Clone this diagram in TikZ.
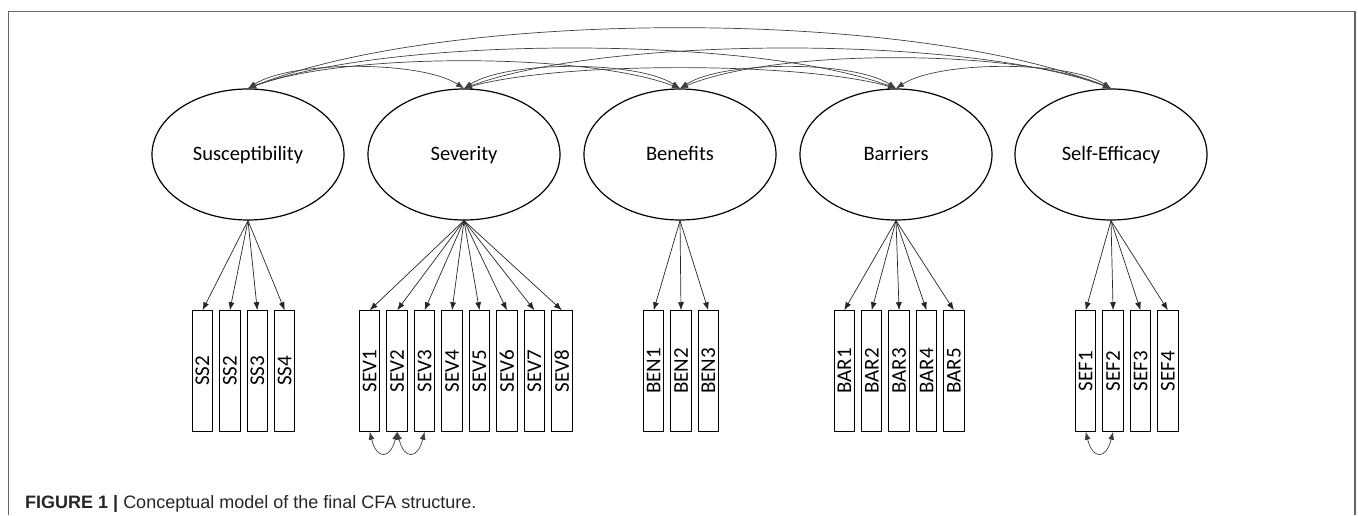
\documentclass[tikz,border=0pt]{standalone}
\usepackage{fontspec}
\setmainfont{Carlito}
\newfontfamily\capfont{Liberation Sans}
\usetikzlibrary{shapes.geometric,arrows.meta}

\begin{document}
\begin{tikzpicture}[x=1pt,y=1pt,
  latent/.style={ellipse, draw, line width=1.2pt, minimum width=192pt,
    minimum height=131pt, inner sep=0pt, text height=18pt, text depth=5pt,
    font=\fontsize{20.5}{24}\selectfont},
  indicator/.style={draw, line width=1pt, rotate=90, minimum width=120.5pt,
    minimum height=20.5pt, inner sep=0pt, font=\fontsize{21}{24}\selectfont},
  tip/.tip={Latex[length=8pt,width=6pt]},
  loading/.style={-tip, line width=0.7pt, draw=black!85},
  covar/.style={tip-tip, line width=0.7pt, draw=black!75},
  frameline/.style={draw=black!60, line width=1.6pt}]

\useasboundingbox (0,0) rectangle (1358,515);

% open frame around the figure
\draw[frameline] (8.3,0) -- (8.3,503.3) -- (1355,503.3) -- (1355,0);

% latent factors
\node[latent] (sus) at (248,360.5) {Susceptibility};
\node[latent] (sev) at (464,360.5) {Severity};
\node[latent] (ben) at (680,360.5) {Benefits};
\node[latent] (bar) at (896,360.5) {Barriers};
\node[latent] (sef) at (1111,360.5) {Self-Efficacy};

% observed indicators
\foreach \lab [count=\i from 0] in {SS2,SS2,SS3,SS4}
  \node[indicator] (ss\i) at ({202.5+27.4*\i},144) {\lab};
\foreach \lab [count=\i from 0] in {SEV1,SEV2,SEV3,SEV4,SEV5,SEV6,SEV7,SEV8}
  \node[indicator] (sv\i) at ({369.7+27.45*\i},144) {\lab};
\foreach \lab [count=\i from 0] in {BEN1,BEN2,BEN3}
  \node[indicator] (bn\i) at ({653.7+27.3*\i},144) {\lab};
\foreach \lab [count=\i from 0] in {BAR1,BAR2,BAR3,BAR4,BAR5}
  \node[indicator] (br\i) at ({844.3+27.4*\i},144) {\lab};
\foreach \lab [count=\i from 0] in {SEF1,SEF2,SEF3,SEF4}
  \node[indicator] (sf\i) at ({1085.7+27.4*\i},144) {\lab};

% factor loadings
\foreach \i in {0,...,3} \draw[loading] (sus.south) -- (ss\i.east);
\foreach \i in {0,...,7} \draw[loading] (sev.south) -- (sv\i.east);
\foreach \i in {0,...,2} \draw[loading] (ben.south) -- (bn\i.east);
\foreach \i in {0,...,4} \draw[loading] (bar.south) -- (br\i.east);
\foreach \i in {0,...,3} \draw[loading] (sef.south) -- (sf\i.east);

% factor covariances
\draw[covar] (sus.north) .. controls +(43,28) and +(-43,28) .. (sev.north);
\draw[covar] (sev.north) .. controls +(43,28) and +(-43,28) .. (ben.north);
\draw[covar] (ben.north) .. controls +(43,28) and +(-43,28) .. (bar.north);
\draw[covar] (bar.north) .. controls +(43,28) and +(-43,28) .. (sef.north);
\draw[covar] (sus.north) .. controls +(95,36) and +(-95,36) .. (ben.north);
\draw[covar] (sev.north) .. controls +(95,27) and +(-95,27) .. (bar.north);
\draw[covar] (ben.north) .. controls +(95,40) and +(-95,40) .. (sef.north);
\draw[covar] (sus.north) .. controls +(143,53) and +(-143,53) .. (bar.north);
\draw[covar] (sev.north) .. controls +(143,53) and +(-143,53) .. (sef.north);
\draw[covar] (sus.north) .. controls +(200,80) and +(-200,80) .. (sef.north);

% residual covariances
\draw[covar] (sv0.west) .. controls +(7,-28) and +(-7,-28) .. (sv1.west);
\draw[covar] (sv1.west) .. controls +(7,-28) and +(-7,-28) .. (sv2.west);
\draw[covar] (sf0.west) .. controls +(7,-28) and +(-7,-28) .. (sf1.west);

% caption
\node[anchor=base west, inner sep=0pt, text=black!85,
  font=\capfont\fontsize{18}{21}\selectfont] (caption) at (25,7)
  {\textbf{FIGURE 1 |} Conceptual model of the final CFA structure.};
\end{tikzpicture}
\end{document}
